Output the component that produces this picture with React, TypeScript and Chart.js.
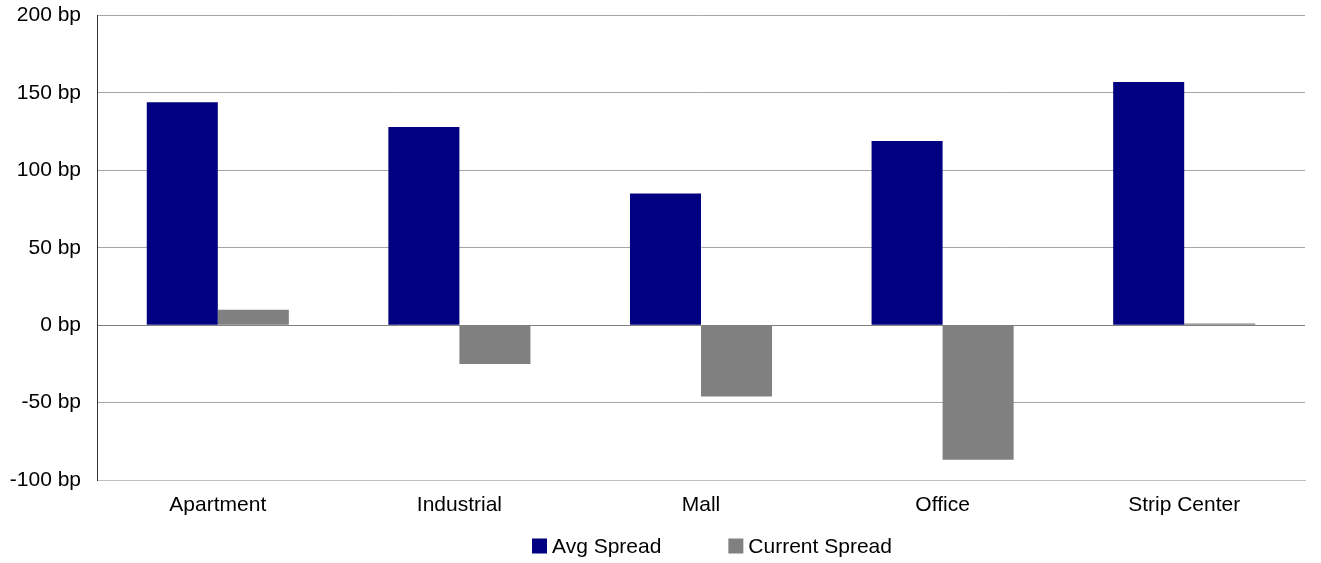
import React, { useEffect, useRef } from "react";
import { Chart, registerables } from "chart.js";

Chart.register(...registerables);

const categories = ["Apartment", "Industrial", "Mall", "Office", "Strip Center"];
const avgSpread = [144, 128, 85, 119, 157];
const currentSpread = [10, -25, -46, -87, 1];
const yTicks = [-100, -50, 0, 50, 100, 150, 200];

const FONT = "Arial, 'Liberation Sans', sans-serif";
const FONT_SIZE = 21;

// Legend row drawn under the category labels.
const bottomLegend = {
  id: "bottomLegend",
  afterDraw(chart: any) {
    const ctx = chart.ctx;
    const items = chart.data.datasets.map((d: any) => ({ text: d.label, color: d.backgroundColor }));
    const box = 15;
    const gapText = 5;
    const gapItem = 67;
    ctx.save();
    ctx.font = `${FONT_SIZE}px ${FONT}`;
    let x = 532;
    const cy = 546;
    items.forEach((it: any) => {
      ctx.fillStyle = it.color;
      ctx.fillRect(x, cy - box / 2, box, box);
      ctx.fillStyle = "#000";
      ctx.textBaseline = "middle";
      ctx.textAlign = "left";
      ctx.fillText(it.text, x + box + gapText, cy + 1);
      x += box + gapText + ctx.measureText(it.text).width + gapItem;
    });
    ctx.restore();
  },
};

export default function App() {
  const canvasRef = useRef<HTMLCanvasElement>(null);

  useEffect(() => {
    if (!canvasRef.current) return;
    const chart = new Chart(canvasRef.current, {
      type: "bar",
      data: {
        labels: categories,
        datasets: [
          { label: "Avg Spread", data: avgSpread, backgroundColor: "#000080" },
          { label: "Current Spread", data: currentSpread, backgroundColor: "#808080" },
        ],
      },
      options: {
        animation: false,
        responsive: true,
        maintainAspectRatio: false,
        layout: { padding: { top: 15.5, right: 16, bottom: 28, left: 0 } },
        datasets: { bar: { categoryPercentage: 0.588, barPercentage: 1 } },
        plugins: {
          legend: { display: false },
          tooltip: { enabled: false },
        },
        scales: {
          x: {
            grid: { display: false, drawTicks: false },
            border: { display: true, color: "#c0c0c0" },
            ticks: { color: "#000", font: { family: FONT, size: FONT_SIZE }, padding: 13 },
            afterFit(scale: any) {
              scale.height = 55;
            },
          },
          y: {
            min: -100,
            max: 200,
            afterBuildTicks(scale: any) {
              scale.ticks = yTicks.map((v) => ({ value: v }));
            },
            grid: {
              drawTicks: false,
              color: (c: any) => (c.tick && c.tick.value === 0 ? "#808080" : "#a6a6a6"),
            },
            border: { display: true, color: "#333" },
            ticks: {
              color: "#000",
              font: { family: FONT, size: FONT_SIZE },
              padding: 16,
              callback: (v: any) => `${v} bp`,
            },
            afterFit(scale: any) {
              scale.width = 97;
              scale.paddingTop = 0;
              scale.paddingBottom = 0;
            },
          },
        },
      },
      plugins: [bottomLegend],
    });
    return () => chart.destroy();
  }, []);

  return (
    <div style={{ position: "fixed", left: 0, top: 0, width: 1321, height: 563, background: "#fff" }}>
      <canvas ref={canvasRef} />
    </div>
  );
}
